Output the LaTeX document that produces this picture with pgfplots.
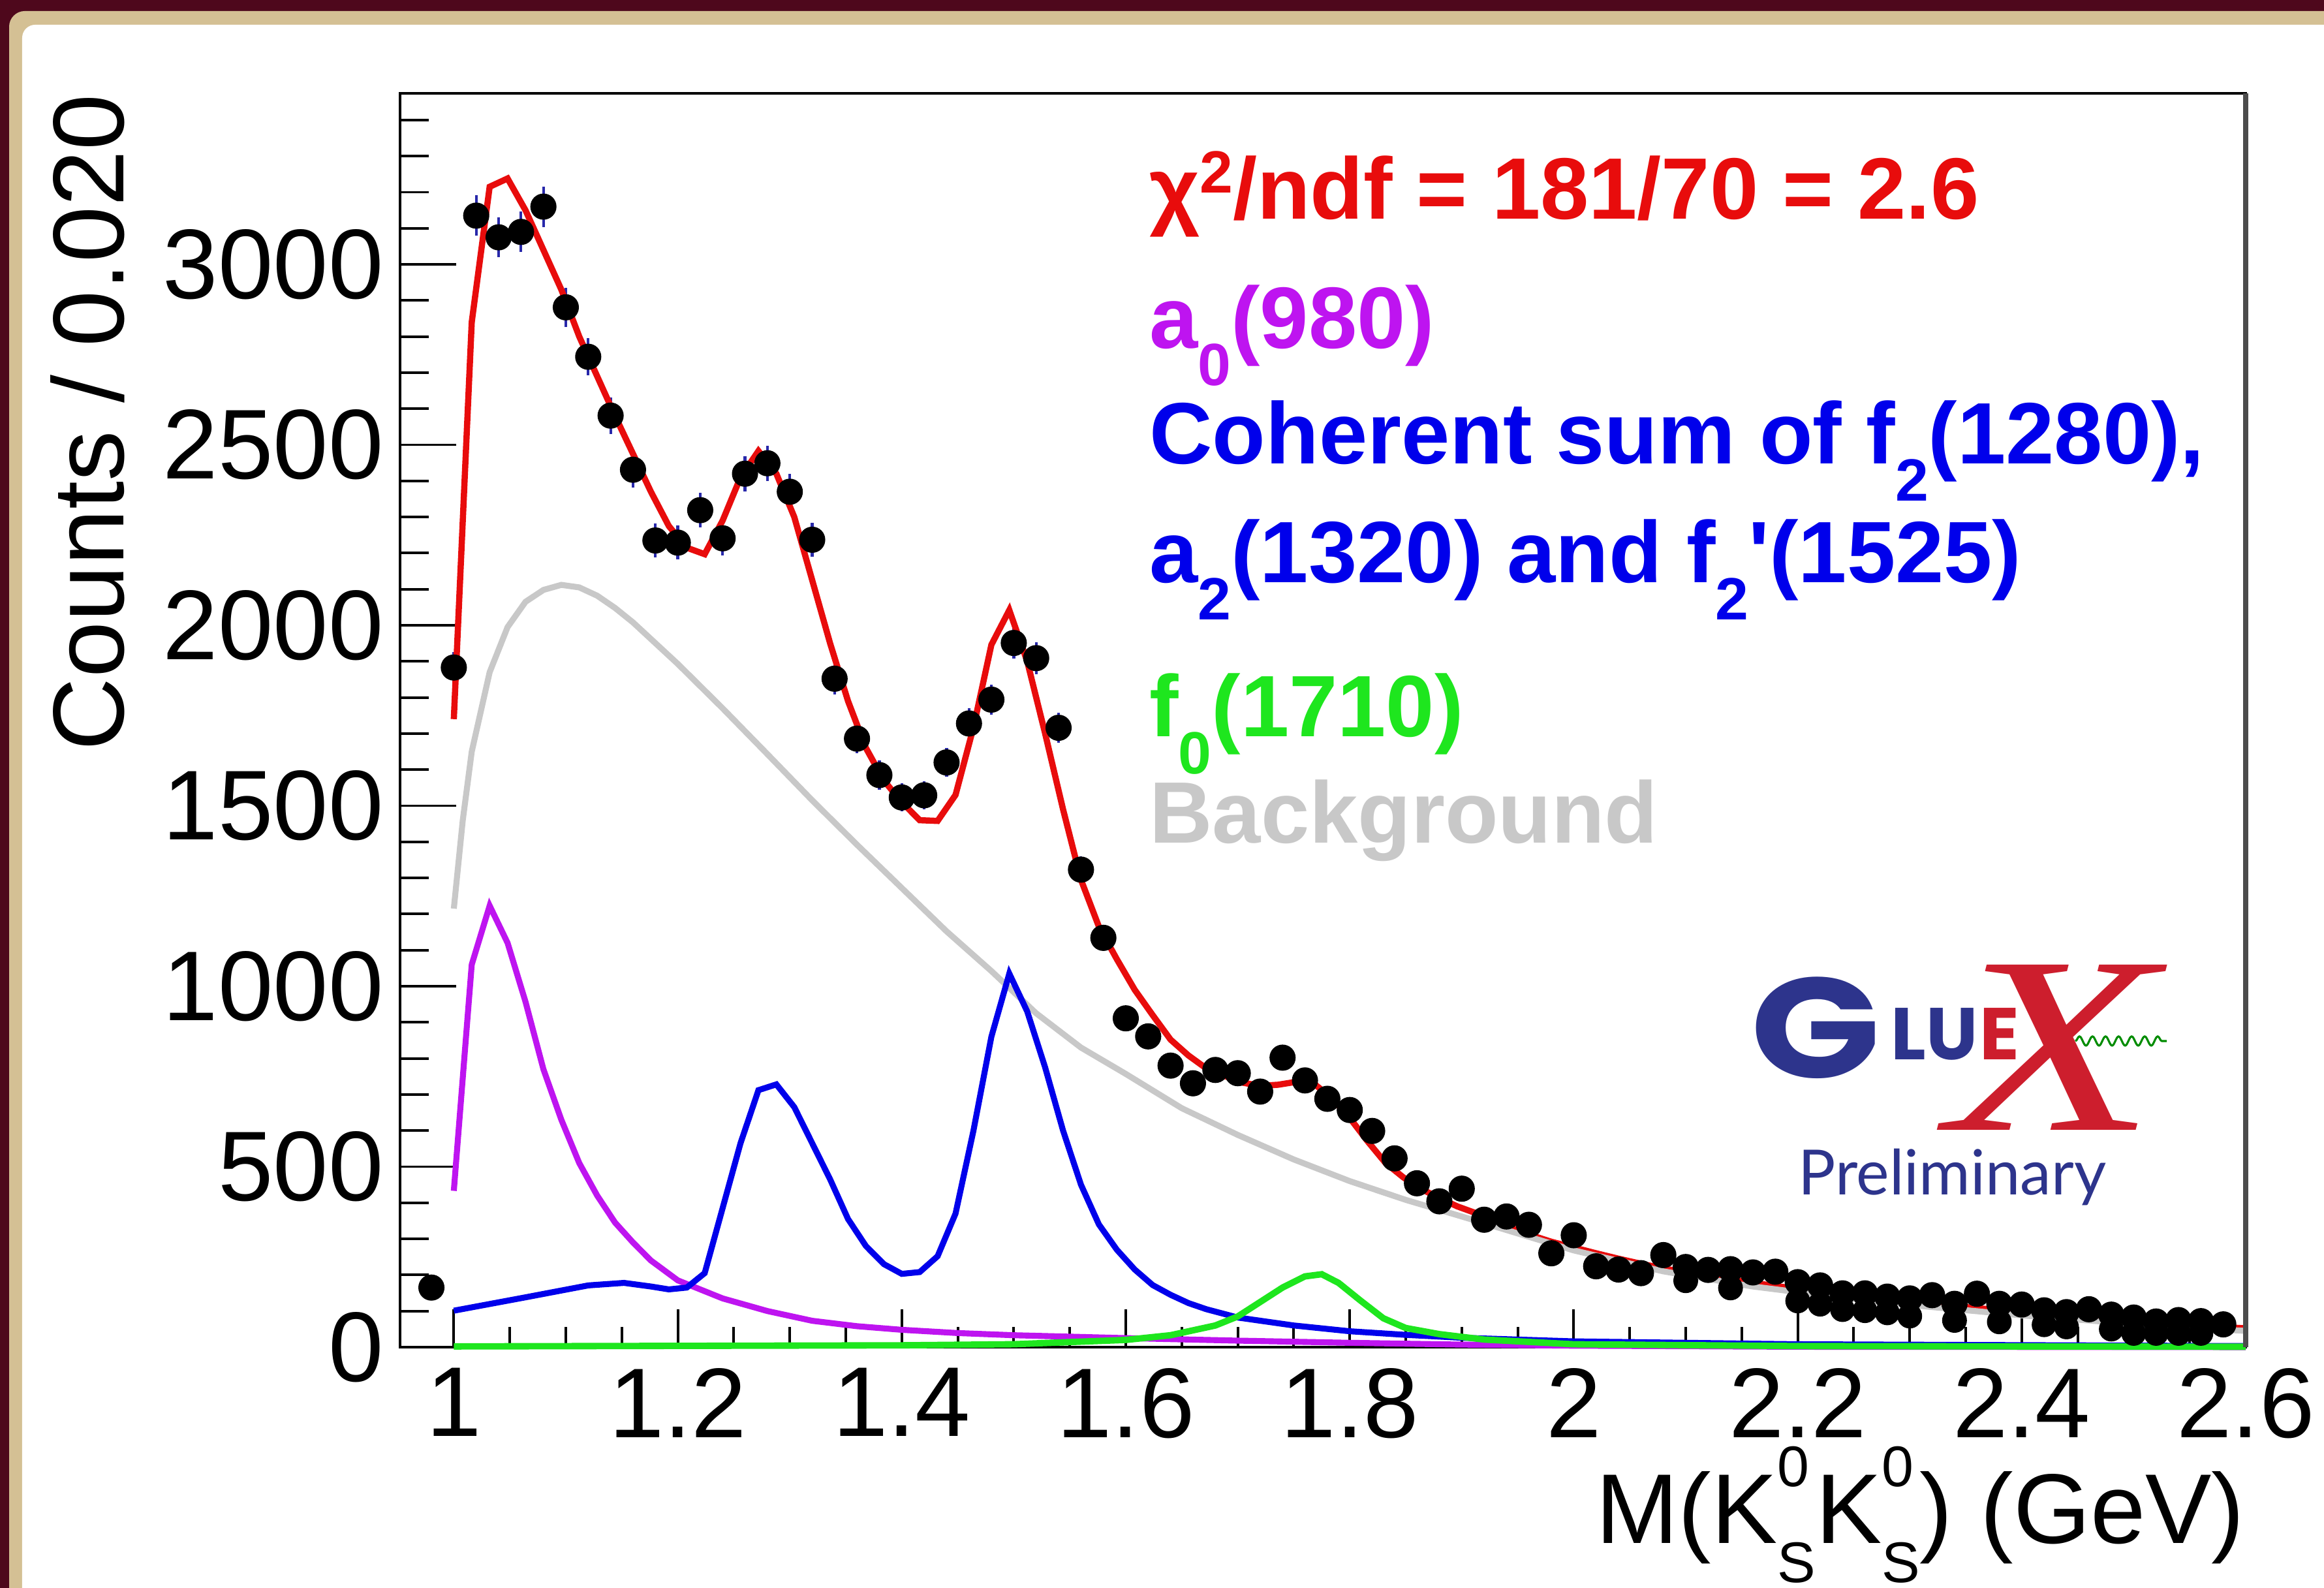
\documentclass[border=0pt]{standalone}
\usepackage{fontspec}
\setmainfont{Liberation Sans}
\newfontfamily\logofont{Poppins}
\newfontfamily\prelimfont{Lato}
\newfontfamily\xfont{Liberation Serif}
\usepackage{pgfplots}
\usepackage{pgfplotstable}
\pgfplotsset{compat=1.18}
\usetikzlibrary{decorations.pathmorphing}

\definecolor{slideframe}{RGB}{78,8,28}
\definecolor{slidetan}{RGB}{212,192,148}
\definecolor{fitred}{RGB}{232,12,12}
\definecolor{azero}{RGB}{190,20,240}
\definecolor{ftwo}{RGB}{0,0,235}
\definecolor{fzero}{RGB}{30,230,30}
\definecolor{bkg}{RGB}{200,200,200}
\definecolor{errblue}{RGB}{40,40,170}
\definecolor{gluexblue}{RGB}{45,52,140}
\definecolor{gluexred}{RGB}{205,30,45}

% subscript / superscript in the ROOT style (big, far from the baseline)
\newcommand{\rsub}[1]{\raisebox{-0.42em}{\fontsize{13}{13}\selectfont #1}}
\newcommand{\rsup}[1]{\raisebox{0.3em}{\fontsize{13}{13}\selectfont #1}}
\newcommand{\kzs}{K\rlap{\raisebox{0.435cm}{\fontsize{12.5}{12.5}\selectfont 0}}\raisebox{-0.30cm}{\fontsize{12.5}{12.5}\selectfont S}}

% data: bin centre, counts, error
\pgfplotstableread{
x y e
0.98 165 13
1.00 1883 43
1.02 3135 56
1.04 3075 55
1.06 3090 56
1.08 3160 56
1.10 2881 54
1.12 2744 52
1.14 2581 51
1.16 2431 49
1.18 2235 47
1.20 2229 47
1.22 2319 48
1.24 2241 47
1.26 2420 49
1.28 2449 49
1.30 2370 49
1.32 2237 47
1.34 1852 43
1.36 1686 41
1.38 1585 40
1.40 1523 39
1.42 1529 39
1.44 1620 40
1.46 1728 42
1.48 1794 42
1.50 1951 44
1.52 1909 44
1.54 1716 41
1.56 1323 36
1.58 1134 34
1.60 911 30
1.62 861 29
1.64 780 28
1.66 731 27
1.68 768 28
1.70 759 28
1.72 708 27
1.74 802 28
1.76 739 27
1.78 688 26
1.80 657 26
1.82 599 24
1.84 523 23
1.86 454 21
1.88 404 20
1.90 439 21
1.92 353 19
1.94 362 19
1.96 339 18
1.98 260 16
2.00 310 18
2.02 224 15
2.04 215 15
2.06 205 14
2.08 255 16
2.10 222 15
2.12 214 15
2.14 216 15
2.16 207 14
2.18 209 14
2.20 180 13
2.22 171 13
2.24 149 12
2.26 149 12
2.28 140 12
2.30 135 12
2.32 144 12
2.34 120 11
2.36 148 12
2.38 120 11
2.40 118 11
2.42 102 10
2.44 97 10
2.46 105 10
2.48 90 9
2.50 82 9
2.52 71 8
2.54 75 9
2.56 72 8
2.58 63 8
}\datatab

% second row of dots visible in the tail
\pgfplotstableread{
x y
2.10 184
2.14 164
2.20 128
2.22 119
2.24 104
2.26 101
2.28 95
2.30 86
2.34 74
2.38 70
2.42 62
2.44 56
2.48 50
2.50 38
2.52 38
2.54 38
2.56 38
}\datalow

\pgfplotstableread{
x y
1.000 1740
1.016 2840
1.032 3215
1.048 3238
1.064 3150
1.080 3040
1.096 2930
1.112 2800
1.128 2690
1.144 2580
1.160 2475
1.176 2370
1.192 2275
1.208 2215
1.224 2197
1.240 2290
1.256 2410
1.272 2483
1.288 2420
1.304 2300
1.320 2125
1.336 1950
1.352 1790
1.368 1660
1.384 1570
1.400 1510
1.416 1460
1.432 1458
1.448 1530
1.464 1717
1.480 1946
1.496 2042
1.512 1900
1.528 1700
1.544 1490
1.560 1295
1.576 1165
1.592 1075
1.608 990
1.624 920
1.640 852
1.656 808
1.672 772
1.688 752
1.704 733
1.720 724
1.736 727
1.752 735
1.768 730
1.784 690
1.800 635
1.816 570
1.832 510
1.848 470
1.864 438
1.880 413
1.896 390
1.912 372
1.928 352
1.944 331
1.960 312
1.980 292
2.000 276
2.020 260
2.040 245
2.060 231
2.080 218
2.120 196
2.160 178
2.200 161
2.240 146
2.280 133
2.320 120
2.360 108
2.400 97
2.440 87
2.480 77
2.520 68
2.560 59
2.600 52
}\fittotal

\pgfplotstableread{
x y
1.000 1215
1.008 1460
1.016 1650
1.032 1870
1.048 1995
1.064 2065
1.080 2098
1.096 2112
1.112 2105
1.128 2082
1.144 2048
1.160 2008
1.200 1893
1.240 1770
1.280 1643
1.320 1515
1.360 1392
1.400 1272
1.440 1152
1.480 1042
1.520 925
1.560 830
1.600 757
1.650 662
1.700 588
1.750 520
1.800 460
1.850 408
1.900 362
1.950 315
2.000 268
2.080 210
2.160 168
2.240 137
2.320 111
2.400 88
2.480 69
2.560 52
2.600 45
}\fitbkg

\pgfplotstableread{
x y
1.000 433
1.016 1060
1.032 1223
1.048 1120
1.064 957
1.080 770
1.096 630
1.112 510
1.128 420
1.144 345
1.160 290
1.176 240
1.200 185
1.240 135
1.280 100
1.320 73
1.360 58
1.400 48
1.450 39
1.500 33
1.600 25
1.700 18
1.800 12
1.900 7
2.000 4
2.200 1
2.600 0
}\fita

\pgfplotstableread{
x y
1.000 101
1.064 138
1.120 171
1.152 178
1.176 168
1.192 160
1.208 165
1.224 205
1.240 385
1.256 565
1.272 712
1.288 728
1.304 665
1.320 565
1.336 465
1.352 355
1.368 280
1.384 230
1.400 203
1.416 208
1.432 252
1.448 370
1.464 600
1.480 860
1.496 1035
1.512 930
1.528 775
1.544 600
1.560 450
1.576 340
1.592 270
1.608 215
1.624 172
1.640 145
1.656 122
1.672 105
1.700 82
1.750 60
1.800 44
1.850 34
1.900 26
2.000 16
2.200 8
2.600 3
}\fitf

\pgfplotstableread{
x y
1.000 2
1.400 5
1.500 8
1.600 20
1.640 33
1.680 60
1.700 85
1.720 125
1.740 165
1.760 196
1.775 202
1.790 178
1.810 128
1.830 80
1.850 53
1.880 36
1.920 21
2.000 8
2.200 3
2.600 1
}\fitfzero

\begin{document}
\begin{tikzpicture}
% slide frame
\clip (0,0) rectangle (17.805,12.165);
\fill[slideframe] (0,0) rectangle (17.805,12.165);
\fill[slidetan, rounded corners=0.12cm] (0.07,-1) rectangle (19,12.08);
\fill[white, rounded corners=0.1cm] (0.17,-1) rectangle (19,11.975);

\begin{axis}[
  at={(3.065cm,1.845cm)}, anchor=south west,
  width=14.14cm, height=9.605cm, scale only axis,
  xmin=0.952, xmax=2.6, ymin=0, ymax=3474,
  axis line style={line width=0.55pt},
  tick pos=left, tick align=inside,
  xtick={1,1.2,1.4,1.6,1.8,2,2.2,2.4,2.6},
  ytick={0,500,1000,1500,2000,2500,3000},
  minor xtick={1.05,1.1,1.15,1.25,1.3,1.35,1.45,1.5,1.55,1.65,1.7,1.75,1.85,1.9,1.95,2.05,2.1,2.15,2.25,2.3,2.35,2.45,2.5,2.55},
  minor ytick={100,200,300,400,600,700,800,900,1100,1200,1300,1400,1600,1700,1800,1900,2100,2200,2300,2400,2600,2700,2800,2900,3100,3200,3300,3400},
  major tick length=0.43cm, minor tick length=0.22cm,
  every tick/.style={black, line width=0.55pt},
  xtick style={/pgfplots/major tick length=0.29cm, /pgfplots/minor tick length=0.155cm},
  ticklabel style={font=\fontsize{21.6}{26}\selectfont, inner sep=0pt},
  xticklabel style={anchor=north, yshift=-0.155cm},
  yticklabel style={anchor=east, xshift=-0.12cm},
  /pgf/number format/assume math mode=true,
  /pgf/number format/1000 sep={},
  scaled ticks=false,
  clip=false,
]
\addplot[only marks, mark=*, mark size=2.65pt, black,
  error bars/.cd, y dir=both, y explicit,
  error bar style={errblue, line width=0.6pt}, error mark=none]
  table[x=x, y=y, y error=e] {\datatab};
\addplot[only marks, mark=*, mark size=2.5pt, black] table[x=x, y=y] {\datalow};
\addplot[fitred, line width=1.35pt] table[x=x, y=y] {\fittotal};
\addplot[bkg, line width=1.3pt] table[x=x, y=y] {\fitbkg};
\addplot[azero, line width=1.3pt] table[x=x, y=y] {\fita};
\addplot[ftwo, line width=1.3pt] table[x=x, y=y] {\fitf};
\addplot[fzero, line width=1.4pt] table[x=x, y=y] {\fitfzero};
\draw[black!70, line width=1.1pt] (rel axis cs:1,0) -- (rel axis cs:1,1);
\end{axis}

% axis titles
\node[rotate=90, anchor=base east, inner sep=0pt, font=\fontsize{22}{26}\selectfont]
  at (0.95,11.45) {Counts / 0.020};
\node[anchor=base east, inner sep=0pt, font=\fontsize{21.6}{26}\selectfont]
  at (17.205,0.34) {M(\kzs\kzs) (GeV)};

% fit labels
\begin{scope}[every node/.style={anchor=base west, inner sep=0pt, font=\bfseries\fontsize{19}{23}\selectfont}]
\node[text=fitred] at (8.80,10.485) {χ\rsup{2}/ndf = 181/70 = 2.6};
\node[text=azero] at (8.80,9.495) {a\rsub{0}(980)};
\node[text=ftwo] at (8.80,8.61) {Coherent sum of f\rsub{2}(1280),};
\node[text=ftwo] at (8.80,7.70) {a\rsub{2}(1320) and f\rsub{2}\textquotesingle(1525)};
\node[text=fzero] at (8.80,6.52) {f\rsub{0}(1710)};
\node[text=bkg] at (8.80,5.705) {Background};
\end{scope}

% GlueX logo
\node[anchor=base, inner sep=0pt, text=gluexblue, font=\logofont\bfseries\fontsize{31}{31}\selectfont, xscale=1.2] at (13.91,3.905) {G};
\node[anchor=base west, inner sep=0pt, text=gluexblue, font=\logofont\bfseries\fontsize{16}{16}\selectfont] at (14.48,4.045) {LU};
\node[anchor=center, inner sep=0pt, text=gluexred, font=\xfont\itshape\fontsize{55}{55}\selectfont, xscale=1.35] at (15.725,4.14) {X};
\node[anchor=base west, inner sep=0pt, text=gluexred, font=\logofont\bfseries\fontsize{16}{16}\selectfont] at (15.16,4.045) {E};
\draw[green!55!black, line width=0.45pt, decorate, decoration={snake, amplitude=0.035cm, segment length=0.1cm}] (15.9,4.19) -- (16.6,4.19);
\node[anchor=base west, inner sep=0pt, text=gluexblue, font=\prelimfont\fontsize{13.6}{15}\selectfont] at (13.77,3.01) {Preliminary};
\end{tikzpicture}
\end{document}
